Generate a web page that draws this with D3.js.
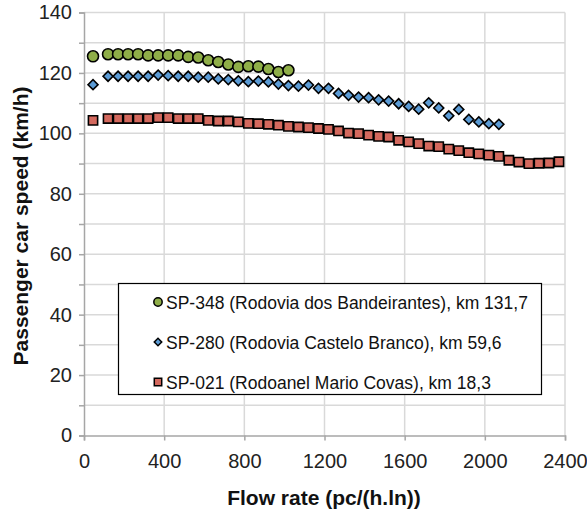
<!DOCTYPE html>
<html><head><meta charset="utf-8">
<script src="https://cdn.jsdelivr.net/npm/d3@7"></script>
<style>body{margin:0;background:#fff;} text{font-family:"Liberation Sans",Arial,sans-serif;}</style>
</head><body><svg id="c" width="587" height="514"></svg>
<script>
const xTicks = [0, 400, 800, 1200, 1600, 2000, 2400];
const yTicks = [0, 20, 40, 60, 80, 100, 120, 140];

const sp348Flow = [45,120,170,220,270,320,370,420,470,520,570,620,670,720,770,820,870,920,970,1020];
const sp348Speed = [125.5,126.2,126.2,126.2,126.2,125.8,125.8,125.8,125.8,125.3,125.1,124.2,123.6,122.8,122.0,122.2,122.1,121.3,120.3,120.9];

const sp280Flow = [45,120,170,220,270,320,370,420,470,520,570,620,670,720,770,820,870,920,970,1020,1070,1120,1170,1220,1270,1320,1370,1420,1470,1520,1570,1620,1670,1720,1770,1820,1870,1920,1970,2020,2070];
const sp280Speed = [116.1,118.9,118.9,118.9,118.9,118.9,119.3,119.1,118.9,118.9,118.6,118.6,118.0,117.8,117.4,117.1,117.3,117.0,116.3,115.8,115.6,116.0,114.9,114.9,113.2,112.6,112.0,111.8,111.1,110.7,109.8,108.9,108.0,110.1,108.4,105.8,107.9,104.6,103.8,103.2,103.0];

const sp021Flow = [45,120,170,220,270,320,370,420,470,520,570,620,670,720,770,820,870,920,970,1020,1070,1120,1170,1220,1270,1320,1370,1420,1470,1520,1570,1620,1670,1720,1770,1820,1870,1920,1970,2020,2070,2120,2170,2220,2270,2320,2370];
const sp021Speed = [104.3,104.9,104.9,104.9,104.9,104.9,105.2,105.2,104.9,104.9,104.9,104.3,104.1,104.1,103.8,103.3,103.2,103.0,102.7,102.3,102.1,101.9,101.6,101.3,100.8,100.1,99.9,99.4,99.0,98.8,97.7,97.2,96.6,95.8,95.6,94.8,94.3,93.6,93.2,92.8,92.4,91.1,90.5,90.0,90.1,90.2,90.6];

const seriesNames = ["SP-348 (Rodovia dos Bandeirantes), km 131,7",
                     "SP-280 (Rodovia Castelo Branco), km 59,6",
                     "SP-021 (Rodoanel Mario Covas), km 18,3"];
const colors = ["#8FAE48", "#5B9BD5", "#D4695E"];

const svg = d3.select("#c");
const x = d3.scaleLinear().domain([0, 2400]).range([84, 565]);
const y = d3.scaleLinear().domain([0, 140]).range([435.5, 12.5]);

// gridlines
const g = svg.append("g");
g.selectAll(".hg").data(d3.range(10, 141, 10)).enter().append("line")
  .attr("x1", x(0)).attr("x2", x(2400)).attr("y1", d => y(d)).attr("y2", d => y(d))
  .attr("stroke", "#d9d9d9").attr("stroke-width", 1.5);
g.selectAll(".vg").data(xTicks.slice(1)).enter().append("line")
  .attr("x1", d => x(d)).attr("x2", d => x(d)).attr("y1", y(0)).attr("y2", y(140))
  .attr("stroke", "#d9d9d9").attr("stroke-width", 1.5);

// axes
const xAxis = d3.axisBottom(x).tickValues(xTicks).tickSize(5).tickPadding(13).tickFormat(d3.format("d"));
const yAxis = d3.axisLeft(y).tickValues(d3.range(0, 141, 10)).tickSize(5).tickPadding(7)
  .tickFormat(d => yTicks.includes(d) ? d : "");
const gx = svg.append("g").attr("transform", `translate(0,${y(0)})`).call(xAxis);
const gy = svg.append("g").attr("transform", `translate(${x(0)},0)`).call(yAxis);
[gx, gy].forEach(a => {
  a.select(".domain").attr("stroke", "#a6a6a6").attr("stroke-width", 1.5);
  a.selectAll(".tick line").attr("stroke", "#a6a6a6").attr("stroke-width", 1.5);
  a.selectAll(".tick text").attr("font-size", 20).attr("fill", "#222")
   .attr("font-family", "'Liberation Sans',Arial,sans-serif");
});

// axis titles
svg.append("text").attr("x", 324).attr("y", 505).attr("text-anchor", "middle")
  .attr("font-size", 21).attr("font-weight", "bold").attr("fill", "#111")
  .text("Flow rate (pc/(h.ln))");
svg.append("text").attr("transform", "translate(28,226) rotate(-90)").attr("text-anchor", "middle")
  .attr("font-size", 21).attr("font-weight", "bold").attr("fill", "#111")
  .text("Passenger car speed (km/h)");

// markers
function markerPath(i, s) {
  if (i === 0) return d3.symbol().type(d3.symbolCircle).size(s)();
  return d3.symbol().type(d3.symbolSquare).size(s)();
}
const sizes = [95, 50, 85];
function drawSeries(flow, speed, i) {
  svg.append("g").selectAll("path").data(flow.map((f, k) => [f, speed[k]])).enter().append("path")
    .attr("d", markerPath(i, sizes[i]))
    .attr("transform", d => `translate(${x(d[0])},${y(d[1])})` + (i === 1 ? " rotate(45)" : ""))
    .attr("fill", colors[i]).attr("stroke", "#000").attr("stroke-width", 1.6);
}
drawSeries(sp021Flow, sp021Speed, 2);
drawSeries(sp280Flow, sp280Speed, 1);
drawSeries(sp348Flow, sp348Speed, 0);

// legend
const lg = svg.append("g");
lg.append("rect").attr("x", 118.5).attr("y", 283.5).attr("width", 423).attr("height", 111)
  .attr("fill", "#fff").attr("stroke", "#000").attr("stroke-width", 1.2);
const lsizes = [55, 28, 55];
seriesNames.forEach((n, i) => {
  const cy = 302 + i * 40;
  lg.append("path").attr("d", markerPath(i, lsizes[i]))
    .attr("transform", `translate(158,${cy})` + (i === 1 ? " rotate(45)" : ""))
    .attr("fill", colors[i]).attr("stroke", "#000").attr("stroke-width", 1.5);
  lg.append("text").attr("x", 166).attr("y", cy + 6.5).attr("font-size", 17.5).attr("fill", "#111").text(n);
});
</script></body></html>
